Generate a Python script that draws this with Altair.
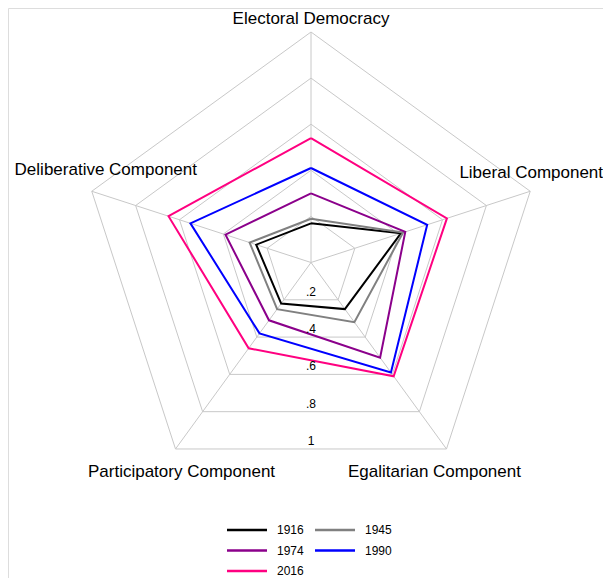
import altair as alt
import pandas as pd

# ---- data ----
axes = ["Electoral Democracy", "Liberal Component", "Egalitarian Component",
        "Participatory Component", "Deliberative Component"]
years = ["1916", "1945", "1974", "1990", "2016"]
v1916 = [0.17, 0.41, 0.25, 0.22, 0.25]
v1945 = [0.19, 0.42, 0.32, 0.25, 0.28]
v1974 = [0.30, 0.43, 0.51, 0.31, 0.39]
v1990 = [0.41, 0.53, 0.59, 0.38, 0.55]
v2016 = [0.54, 0.62, 0.61, 0.46, 0.65]
levels = [0.2, 0.4, 0.6, 0.8, 1.0]
level_labels = [".2", ".4", ".6", ".8", "1"]
colors = ["#000000", "#808080", "#8B008B", "#0000FF", "#FF0080"]

series = dict(zip(years, [v1916, v1945, v1974, v1990, v2016]))

# ---- tables built from the arrays ----
rows = []
for y in years:
    for k in range(6):
        i = k % 5
        rows.append({"year": y, "idx": i, "ord": k, "r": series[y][i], "axis": axes[i]})
df_series = pd.DataFrame(rows)

grows = []
for lv in levels:
    for k in range(6):
        grows.append({"level": lv, "idx": k % 5, "ord": k, "r": lv})
df_grid = pd.DataFrame(grows)

df_spokes = pd.DataFrame({"idx": list(range(5)), "r": [1.0] * 5, "zero": [0.0] * 5})
df_ticks = pd.DataFrame({"level": levels, "label": level_labels})
df_axes = pd.DataFrame({"axis": axes, "idx": list(range(5)), "r": [1.0] * 5})
df_legend = pd.DataFrame({"year": years,
                          "col": [i % 2 for i in range(len(years))],
                          "row": [i // 2 for i in range(len(years))]})

# ---- layout ----
W, H = 595, 570
R = 230.5
CX, CY = 303, 254.5
xs = alt.Scale(domain=[-CX / R, (W - CX) / R], nice=False, zero=False)
ys = alt.Scale(domain=[-(H - CY) / R, CY / R], nice=False, zero=False)

FONT = "Liberation Sans"
xcalc = "datum.r * sin(datum.idx * 2 * PI / 5)"
ycalc = "datum.r * cos(datum.idx * 2 * PI / 5)"

X = alt.X("x:Q", scale=xs, axis=None)
Y = alt.Y("y:Q", scale=ys, axis=None)
COLOR = alt.Color("year:N", scale=alt.Scale(domain=years, range=colors), legend=None)

grid = alt.Chart(df_grid).transform_calculate(x=xcalc, y=ycalc).mark_line(
    color="#c8c8c8", strokeWidth=1
).encode(x=X, y=Y, detail="level:N", order="ord:Q")

spokes = alt.Chart(df_spokes).transform_calculate(x=xcalc, y=ycalc).mark_rule(
    color="#c8c8c8", strokeWidth=1
).encode(x=X, y=Y, x2="zero:Q", y2="zero:Q")

lines = alt.Chart(df_series).transform_calculate(x=xcalc, y=ycalc).mark_line(
    strokeWidth=2
).encode(x=X, y=Y, order="ord:Q", color=COLOR)

ticks = alt.Chart(df_ticks).transform_calculate(
    x="0", y="-datum.level * cos(PI / 5)"
).mark_text(font=FONT, fontSize=12, dy=-8, baseline="middle", color="#000000").encode(
    x=X, y=Y, text="label:N"
)

label_offsets = {
    "Electoral Democracy": (0, -13),
    "Liberal Component": (1, -18),
    "Egalitarian Component": (-12, 23),
    "Participatory Component": (6, 23),
    "Deliberative Component": (14, -21),
}
label_layers = []
for name in axes:
    dx, dy = label_offsets[name]
    label_layers.append(
        alt.Chart(df_axes).transform_filter(alt.datum.axis == name)
        .transform_calculate(x=xcalc, y=ycalc)
        .mark_text(font=FONT, fontSize=17, dx=dx, dy=dy, baseline="middle",
                   align="center", color="#000000")
        .encode(x=X, y=Y, text="axis:N")
    )

# ---- legend (layout in pixels, converted to the plot's data units) ----
LX0, LCOL, LLEN, LGAP, LY0, LROW = 219, 88, 40, 10, 522, 20.5
leg_x = f"({LX0} + datum.col * {LCOL} - {CX}) / {R}"
leg_x2 = f"({LX0} + datum.col * {LCOL} + {LLEN} - {CX}) / {R}"
leg_tx = f"({LX0} + datum.col * {LCOL} + {LLEN} + {LGAP} - {CX}) / {R}"
leg_y = f"({CY} - {LY0} - datum.row * {LROW}) / {R}"

leg_lines = alt.Chart(df_legend).transform_calculate(
    x=leg_x, x2=leg_x2, y=leg_y
).mark_rule(strokeWidth=2.5).encode(x=X, x2="x2:Q", y=Y, color=COLOR)

leg_text = alt.Chart(df_legend).transform_calculate(
    x=leg_tx, y=leg_y
).mark_text(font=FONT, fontSize=12, align="left", baseline="middle",
            color="#000000").encode(x=X, y=Y, text="year:N")

chart = alt.layer(grid, spokes, lines, ticks, *label_layers, leg_lines, leg_text).properties(
    width=W, height=H, padding=0, autosize=alt.AutoSizeParams(type="none")
).configure_view(stroke=None).configure(font=FONT)

chart.save("out.html", embed_options={"renderer": "svg", "actions": False})
